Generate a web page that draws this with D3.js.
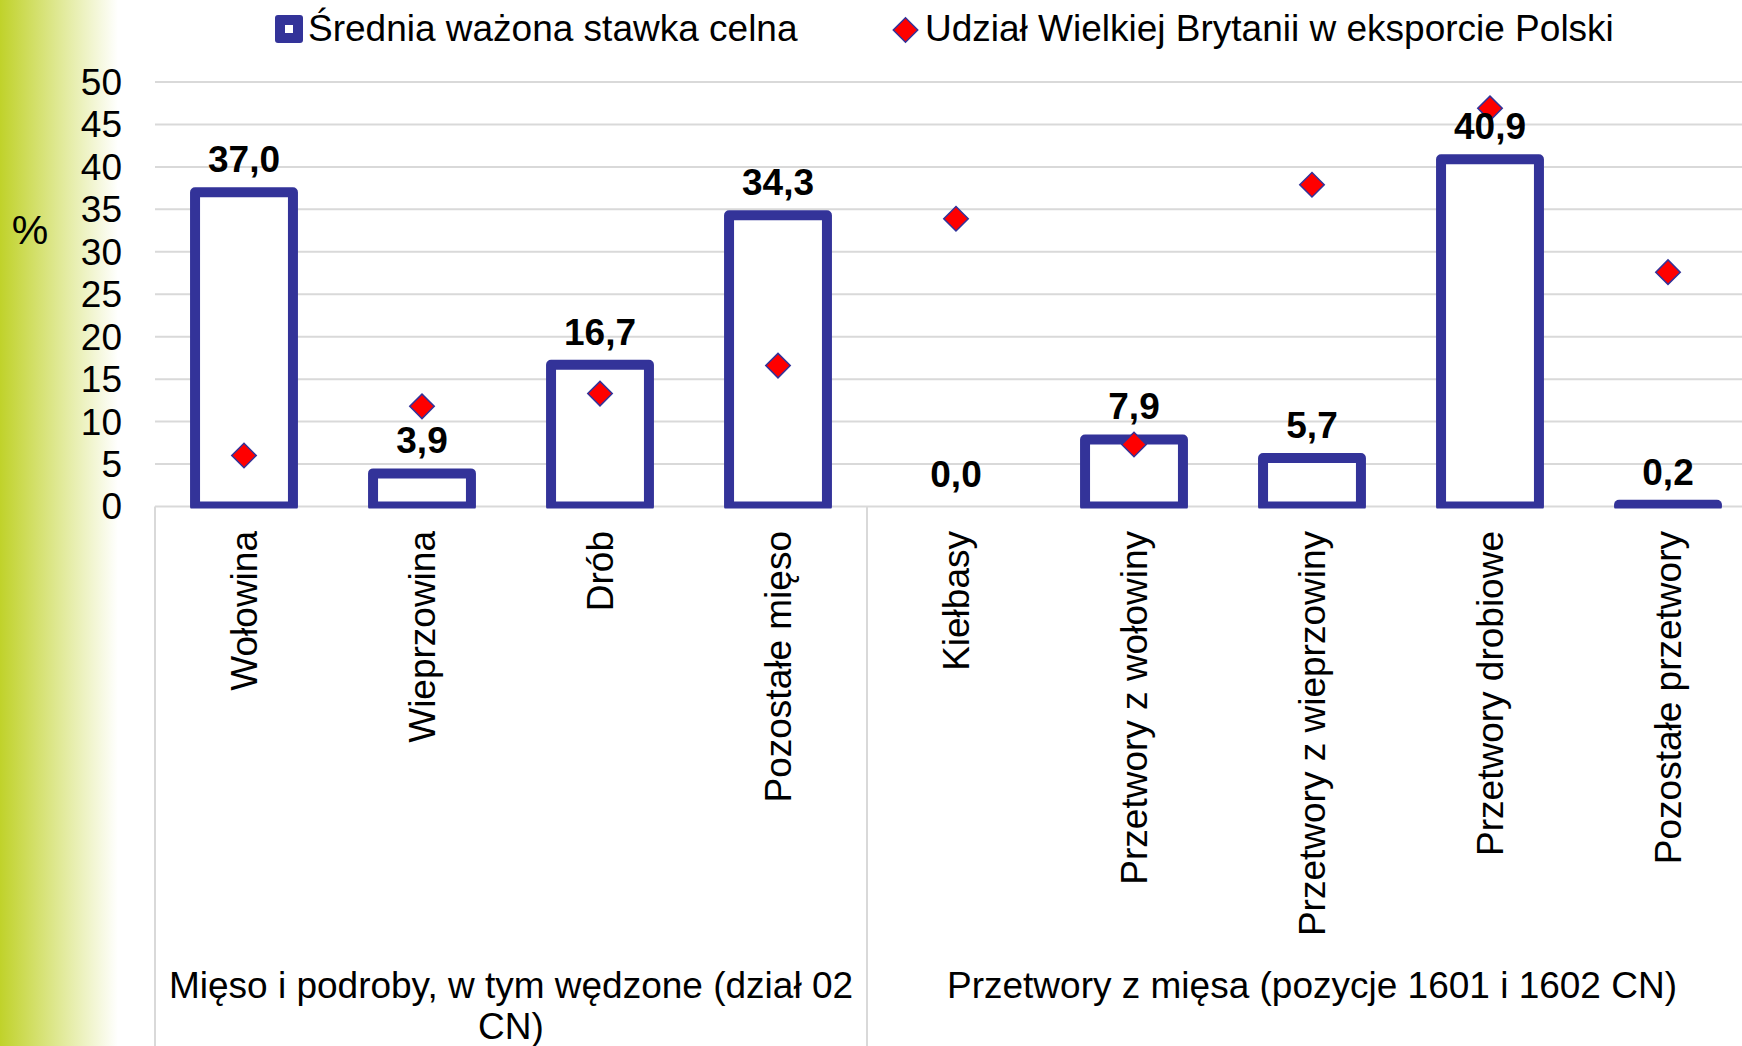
<!DOCTYPE html>
<html>
<head>
    <meta charset="UTF-8">
    <title>Stawki celne - mięso</title>
    <script src="https://d3js.org/d3.v7.min.js"></script>
    <style>
        body { margin: 0; background: #fff; }
        text { font-family: "Liberation Sans", Arial, sans-serif; fill: #000; }
    </style>
</head>
<body>
    <div id="chart"></div>

    <script>
        // Data
        var categories = ["Wołowina", "Wieprzowina", "Drób", "Pozostałe mięso",
            "Kiełbasy", "Przetwory z wołowiny", "Przetwory z wieprzowiny",
            "Przetwory drobiowe", "Pozostałe przetwory"];
        var groupLabels = ["Mięso i podroby, w tym wędzone (dział 02 CN)",
            "Przetwory z mięsa (pozycje 1601 i 1602 CN)"];
        var groupSizes = [4, 5];
        var tariff = [37.0, 3.9, 16.7, 34.3, 0.0, 7.9, 5.7, 40.9, 0.2];
        var ukShare = [6.0, 11.8, 13.3, 16.6, 33.9, 7.3, 37.9, 46.9, 27.6];
        var yTicks = [0, 5, 10, 15, 20, 25, 30, 35, 40, 45, 50];
        var seriesNames = ["Średnia ważona stawka celna", "Udział Wielkiej Brytanii w eksporcie Polski"];

        var W = 1742, H = 1046;
        var navy = "#333399", grid = "#d9d9d9";

        var svg = d3.select("#chart").append("svg")
            .attr("width", W)
            .attr("height", H);

        // green fade on the left edge
        var defs = svg.append("defs");
        var grad = defs.append("linearGradient")
            .attr("id", "fade")
            .attr("x1", "0").attr("x2", "1").attr("y1", "0").attr("y2", "0");
        grad.append("stop").attr("offset", "0%").attr("stop-color", "#c0d22a");
        grad.append("stop").attr("offset", "100%").attr("stop-color", "#ffffff");
        svg.append("rect")
            .attr("x", 0).attr("y", 0)
            .attr("width", 118).attr("height", H)
            .attr("fill", "url(#fade)");

        var x = d3.scaleBand()
            .domain(categories)
            .range([155, 155 + 178 * categories.length])
            .paddingInner(0.45)
            .paddingOuter(0.225);

        var y = d3.scaleLinear()
            .domain([0, 50])
            .range([506.5, 82]);

        defs.append("clipPath").attr("id", "plot")
            .append("rect")
            .attr("x", 0).attr("y", 0)
            .attr("width", W).attr("height", y(0) + 2);

        var fmt = function (v) { return d3.format(".1f")(v).replace(".", ","); };

        // gridlines
        svg.append("g").selectAll("line")
            .data(yTicks)
            .enter().append("line")
            .attr("x1", x.range()[0]).attr("x2", x.range()[1])
            .attr("y1", function (d) { return y(d); })
            .attr("y2", function (d) { return y(d); })
            .attr("stroke", grid)
            .attr("stroke-width", 2);

        // y tick labels
        svg.append("g").selectAll("text")
            .data(yTicks)
            .enter().append("text")
            .attr("x", 122)
            .attr("y", function (d) { return y(d); })
            .attr("dy", "0.35em")
            .attr("text-anchor", "end")
            .style("font-size", "37px")
            .text(function (d) { return d; });

        svg.append("text")
            .attr("x", 30).attr("y", 230)
            .attr("dy", "0.35em")
            .attr("text-anchor", "middle")
            .style("font-size", "41px")
            .text("%");

        // group separators and group labels
        var start = 0;
        var bounds = [x.range()[0]];
        groupSizes.forEach(function (n) {
            start += n;
            bounds.push(x.range()[0] + x.step() * start);
        });
        svg.append("g").selectAll("line")
            .data(bounds)
            .enter().append("line")
            .attr("x1", function (d) { return d; })
            .attr("x2", function (d) { return d; })
            .attr("y1", y(0)).attr("y2", H)
            .attr("stroke", grid)
            .attr("stroke-width", 2);

        groupLabels.forEach(function (label, i) {
            var left = bounds[i], right = bounds[i + 1];
            var t = svg.append("text")
                .attr("x", (left + right) / 2)
                .attr("y", 998)
                .attr("text-anchor", "middle")
                .style("font-size", "37px");
            // wrap into the group width
            var words = label.split(" "), line = [];
            var tspan = t.append("tspan").attr("x", (left + right) / 2).attr("dy", 0);
            words.forEach(function (w) {
                line.push(w);
                tspan.text(line.join(" "));
                if (tspan.node().getComputedTextLength() > right - left - 12 && line.length > 1) {
                    line.pop();
                    tspan.text(line.join(" "));
                    line = [w];
                    tspan = t.append("tspan").attr("x", (left + right) / 2).attr("dy", "1.12em").text(w);
                }
            });
        });

        // category labels (rotated)
        svg.append("g").selectAll("text")
            .data(categories)
            .enter().append("text")
            .attr("transform", function (d) {
                return "translate(" + (x(d) + x.bandwidth() / 2) + ",531) rotate(-90)";
            })
            .attr("dy", "0.35em")
            .attr("text-anchor", "end")
            .style("font-size", "37px")
            .text(function (d) { return d; });

        // bars: white fill, thick navy outline
        svg.append("g")
            .attr("clip-path", "url(#plot)")
            .selectAll("rect")
            .data(tariff)
            .enter().append("rect")
            .attr("x", function (d, i) { return x(categories[i]); })
            .attr("width", x.bandwidth())
            .attr("y", function (d) { return y(d); })
            .attr("height", function (d) { return y(0) - y(d); })
            .attr("fill", "#fff")
            .attr("stroke", navy)
            .attr("stroke-width", 10)
            .attr("stroke-linejoin", "round");

        // diamonds
        var diamond = d3.symbol().type(d3.symbolSquare).size(300);
        svg.append("g").selectAll("path")
            .data(ukShare)
            .enter().append("path")
            .attr("d", diamond)
            .attr("transform", function (d, i) {
                return "translate(" + (x(categories[i]) + x.bandwidth() / 2) + "," + y(d) + ") rotate(45)";
            })
            .attr("fill", "#ff0000")
            .attr("stroke", navy)
            .attr("stroke-width", 1.5);

        // value labels
        svg.append("g").selectAll("text")
            .data(tariff)
            .enter().append("text")
            .attr("x", function (d, i) { return x(categories[i]) + x.bandwidth() / 2; })
            .attr("y", function (d) { return y(d) - 20; })
            .attr("text-anchor", "middle")
            .style("font-size", "37px")
            .style("font-weight", "bold")
            .text(function (d) { return fmt(d); });

        // legend
        var lg = svg.append("g");
        lg.append("rect")
            .attr("x", 275).attr("y", 15)
            .attr("width", 28).attr("height", 28)
            .attr("rx", 3)
            .attr("fill", navy);
        lg.append("rect")
            .attr("x", 285).attr("y", 25)
            .attr("width", 8).attr("height", 8)
            .attr("fill", "#fff");
        lg.append("text")
            .attr("x", 308).attr("y", 41)
            .style("font-size", "37px")
            .text(seriesNames[0]);
        lg.append("path")
            .attr("d", diamond)
            .attr("transform", "translate(905.5,30) rotate(45)")
            .attr("fill", "#ff0000")
            .attr("stroke", navy)
            .attr("stroke-width", 1.5);
        lg.append("text")
            .attr("x", 925).attr("y", 41)
            .style("font-size", "37px")
            .text(seriesNames[1]);
    </script>
</body>
</html>
